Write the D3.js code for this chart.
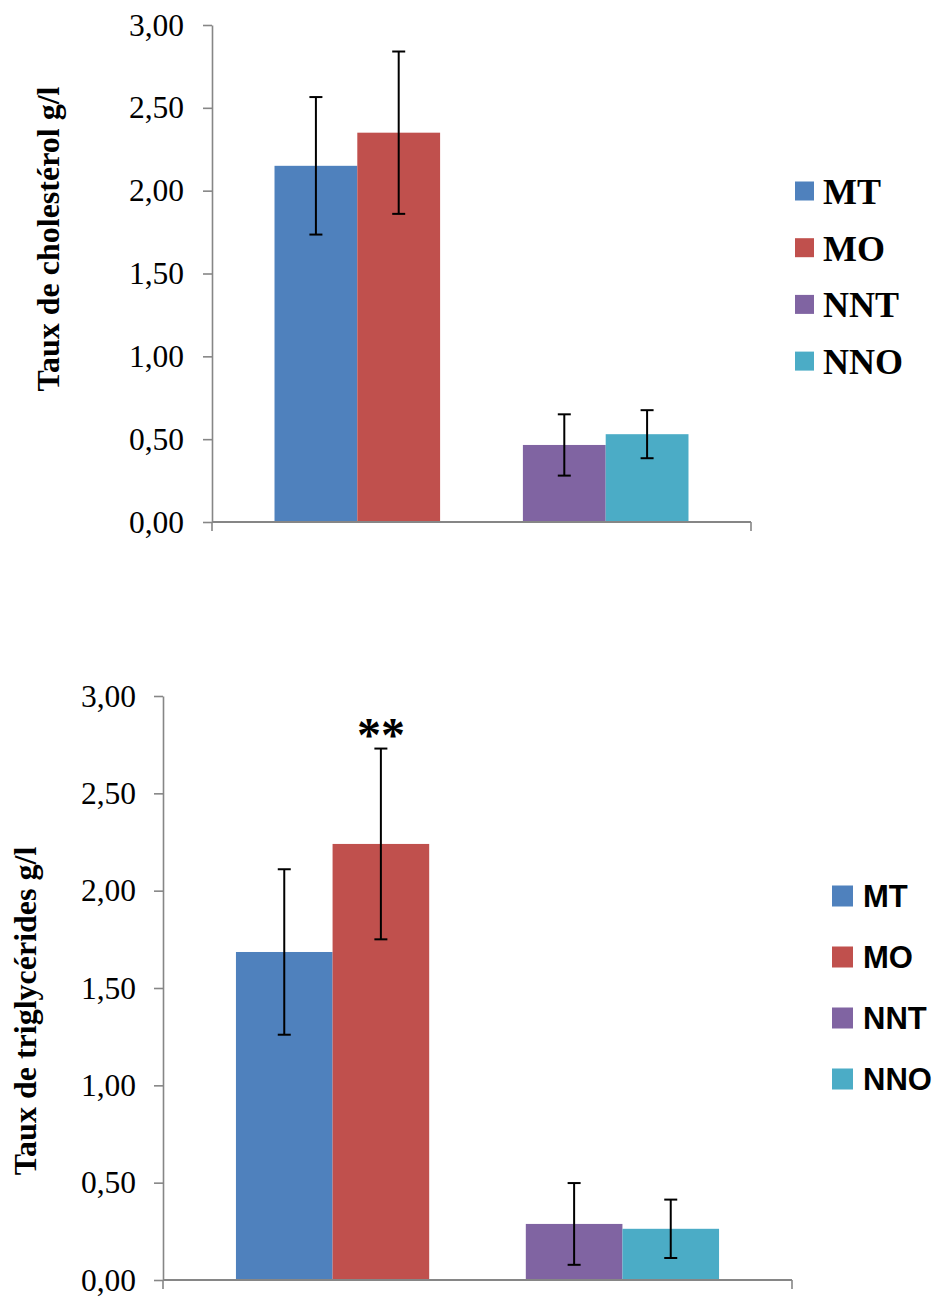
<!DOCTYPE html>
<html><head><meta charset="utf-8">
<script src="https://cdnjs.cloudflare.com/ajax/libs/d3/7.8.5/d3.min.js"></script>
<style>body{margin:0;background:#fff}svg{display:block}</style>
</head><body>
<script>
// ---- data ----
const groups = ["MT", "MO", "NNT", "NNO"];
const colors = ["#4F81BD", "#C0504D", "#8064A2", "#4BACC6"];
const cholMeans = [2.15, 2.35, 0.465, 0.53];
const cholSD = [0.415, 0.49, 0.185, 0.145];
const trigMeans = [1.685, 2.24, 0.288, 0.263];
const trigSD = [0.425, 0.49, 0.21, 0.15];
const yTicks = [0, 0.5, 1, 1.5, 2, 2.5, 3];
const yTickLabels = ["0,00", "0,50", "1,00", "1,50", "2,00", "2,50", "3,00"];
const cholTitle = "Taux de cholestérol g/l";
const trigTitle = "Taux de triglycérides g/l";
const trigMarks = ["", "**", "", ""];

const svg = d3.select("body").append("svg").attr("width", 940).attr("height", 1297);

function panel(cfg) {
  const g = svg.append("g");
  const y = d3.scaleLinear().domain([0, 3]).range([cfg.y0, cfg.y1]);
  const slots = ["MT", "MO", "_gap", "NNT", "NNO"];
  const x = d3.scaleBand().domain(slots).range([cfg.x0, cfg.x1]).paddingInner(0).paddingOuter(0.755);

  // y axis
  const ax = g.append("g").attr("transform", `translate(${cfg.x0},0)`)
    .call(d3.axisLeft(y).tickValues(yTicks).tickFormat((d, i) => yTickLabels[i])
      .tickSize(9).tickSizeOuter(0).tickPadding(cfg.pad));
  ax.select(".domain").attr("stroke", "#868686").attr("stroke-width", 1.6);
  ax.selectAll(".tick line").attr("stroke", "#868686").attr("stroke-width", 1.6);
  ax.selectAll(".tick text").attr("fill", "#000").style("font-family", "'Liberation Serif', 'Times New Roman', serif")
    .style("font-size", "31.5px");

  // bars
  g.selectAll("rect.bar").data(groups).join("rect").attr("class", "bar")
    .attr("x", d => x(d)).attr("width", x.bandwidth())
    .attr("y", (d, i) => y(cfg.means[i])).attr("height", (d, i) => y(0) - y(cfg.means[i]))
    .attr("fill", (d, i) => colors[i]);

  // x axis line
  g.append("line").attr("x1", cfg.x0).attr("x2", cfg.x1).attr("y1", y(0)).attr("y2", y(0))
    .attr("stroke", "#868686").attr("stroke-width", 1.8);
  [cfg.x0, cfg.x1].forEach(xx => g.append("line").attr("x1", xx).attr("x2", xx)
    .attr("y1", y(0)).attr("y2", y(0) + 9).attr("stroke", "#868686").attr("stroke-width", 1.6));

  // error bars
  const cap = 6.5;
  groups.forEach((d, i) => {
    const cx = x(d) + x.bandwidth() / 2;
    const hi = y(cfg.means[i] + cfg.sd[i]), lo = y(cfg.means[i] - cfg.sd[i]);
    g.append("line").attr("x1", cx).attr("x2", cx).attr("y1", hi).attr("y2", lo).attr("stroke", "#000").attr("stroke-width", 2);
    g.append("line").attr("x1", cx - cap).attr("x2", cx + cap).attr("y1", hi).attr("y2", hi).attr("stroke", "#000").attr("stroke-width", 2);
    g.append("line").attr("x1", cx - cap).attr("x2", cx + cap).attr("y1", lo).attr("y2", lo).attr("stroke", "#000").attr("stroke-width", 2);
    if (cfg.marks && cfg.marks[i]) {
      g.append("text").attr("x", cx).attr("y", hi + 2).attr("text-anchor", "middle")
        .style("font-family", "'Liberation Serif', serif").style("font-weight", "bold").style("font-size", "48px")
        .text(cfg.marks[i]);
    }
  });

  // y title
  g.append("text").attr("transform", `translate(${cfg.tx},${cfg.ty}) rotate(-90)`)
    .attr("text-anchor", "middle")
    .style("font-family", "'Liberation Serif', 'Times New Roman', serif").style("font-weight", "bold")
    .style("font-size", "32px").text(cfg.title);

  // legend
  const lg = g.append("g");
  groups.forEach((d, i) => {
    const cy = cfg.ly + i * cfg.lstep;
    lg.append("rect").attr("x", cfg.lx).attr("y", cy - cfg.lsq / 2).attr("width", cfg.lsq).attr("height", cfg.lsq).attr("fill", colors[i]);
    lg.append("text").attr("x", cfg.lx + cfg.lsq + cfg.lgap).attr("y", cy).attr("dy", "0.36em")
      .style("font-family", cfg.lfont).style("font-weight", "bold").style("font-size", cfg.lsize + "px")
      .text(d);
  });
}

panel({ x0: 212, x1: 751, y0: 522, y1: 25, pad: 19, means: cholMeans, sd: cholSD, title: cholTitle,
  tx: 59, ty: 239, lx: 795, ly: 191, lstep: 56.7, lsq: 19, lgap: 9,
  lfont: "'Liberation Serif', 'Times New Roman', serif", lsize: 36 });

panel({ x0: 163, x1: 792, y0: 1280, y1: 696, pad: 18, means: trigMeans, sd: trigSD, title: trigTitle, marks: trigMarks,
  tx: 36, ty: 1011, lx: 832, ly: 896, lstep: 61, lsq: 21, lgap: 10,
  lfont: "'Liberation Sans', Arial, sans-serif", lsize: 31 });
</script>
</body></html>
